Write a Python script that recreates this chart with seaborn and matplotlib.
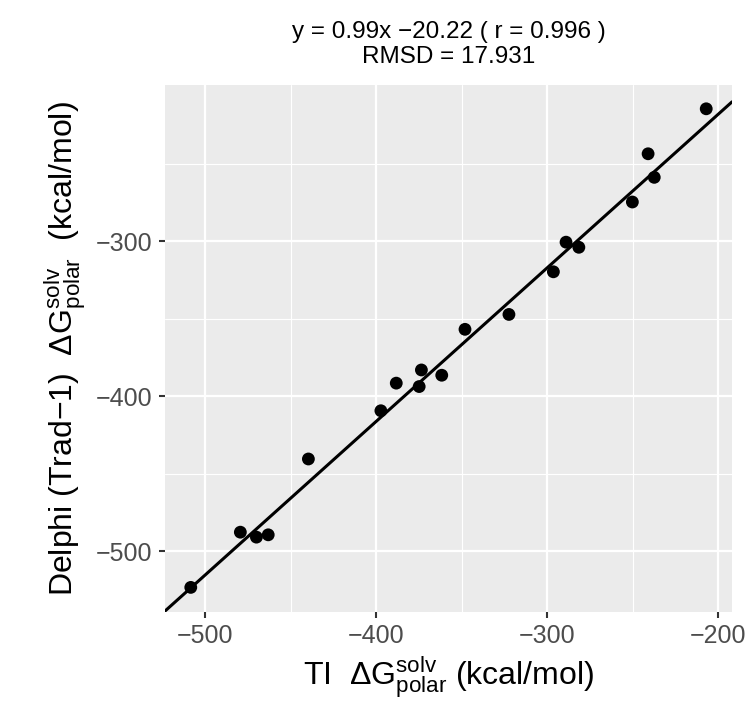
import numpy as np
import pandas as pd
import matplotlib
matplotlib.use("Agg")
import matplotlib.pyplot as plt
from matplotlib.ticker import FixedLocator
import seaborn as sns

# =====================================
# Data
# =====================================

ti = [-508.4, -479.4, -470.0, -463.1, -439.6, -397.2, -388.2, -374.8, -373.5,
      -361.6, -348.0, -322.3, -296.3, -288.9, -281.4, -250.1, -240.9, -237.3,
      -206.9]
delphi = [-523.2, -487.6, -490.8, -489.3, -440.4, -409.3, -391.5, -393.7, -383.0,
          -386.4, -356.8, -347.2, -319.7, -300.6, -303.9, -274.7, -243.6, -258.8,
          -214.6]

slope = 0.99
intercept = -20.22
r_value = 0.996
rmsd = 17.931

x_major = [-500, -400, -300, -200]
x_minor = [-450, -350, -250]
y_major = [-500, -400, -300]
y_minor = [-450, -350, -250]

df = pd.DataFrame({"ti": ti, "delphi": delphi})

# =====================================
# Theme (ggplot-like grey panel)
# =====================================

sns.set_theme(style="darkgrid", rc={
    "axes.facecolor": "#EBEBEB",
    "grid.color": "white",
    "axes.edgecolor": "#EBEBEB",
})
plt.rcParams["font.family"] = ["Liberation Sans", "DejaVu Sans"]
plt.rcParams["mathtext.fontset"] = "custom"
plt.rcParams["mathtext.rm"] = "Liberation Sans"
plt.rcParams["mathtext.it"] = "Liberation Sans"

fig, ax = plt.subplots(figsize=(7.5, 7.19), dpi=100)
fig.subplots_adjust(left=0.22, right=0.976, bottom=0.149, top=0.882)

# regression line across the whole panel
ax.axline((0, intercept), slope=slope, color="black", lw=2.2, zorder=3)

sns.scatterplot(data=df, x="ti", y="delphi", ax=ax, color="black",
                s=85, edgecolor="none", zorder=4)

# limits with 5% expansion like ggplot
xmin, xmax = min(ti), max(ti)
line_y = [slope * xmin + intercept, slope * xmax + intercept]
ymin, ymax = min(delphi + line_y), max(delphi + line_y)
xpad = 0.05 * (xmax - xmin)
ypad = 0.05 * (ymax - ymin)
ax.set_xlim(xmin - xpad, xmax + xpad)
ax.set_ylim(ymin - ypad, ymax + ypad)

ax.xaxis.set_major_locator(FixedLocator(x_major))
ax.xaxis.set_minor_locator(FixedLocator(x_minor))
ax.yaxis.set_major_locator(FixedLocator(y_major))
ax.yaxis.set_minor_locator(FixedLocator(y_minor))
ax.grid(which="major", color="white", lw=1.6)
ax.grid(which="minor", color="white", lw=0.8)
ax.set_axisbelow(True)

ax.tick_params(axis="both", which="major", length=4, width=1.5,
               color="#333333", labelcolor="#4D4D4D", labelsize=18, pad=5,
               bottom=True, left=True)
ax.tick_params(axis="both", which="minor", length=0)
for s in ax.spines.values():
    s.set_visible(False)

ax.set_xlabel("TI  $\\mathrm{\u0394G}^{\\mathrm{solv}}_{\\mathrm{polar}}$ (kcal/mol)",
              fontsize=23, color="black", labelpad=4)
ax.set_ylabel("Delphi (Trad\u22121)  $\\mathrm{\u0394G}^{\\mathrm{solv}}_{\\mathrm{polar}}$  (kcal/mol)",
              fontsize=23, color="black", labelpad=6)

ax.set_title(f"y = {slope:.2f}x \u2212{abs(intercept):.2f} ( r = {r_value:.3f} )\n"
             f"RMSD = {rmsd:.3f}", fontsize=17.5, color="black",
             linespacing=1.15, pad=16)

fig.savefig("out.png", dpi=100)
